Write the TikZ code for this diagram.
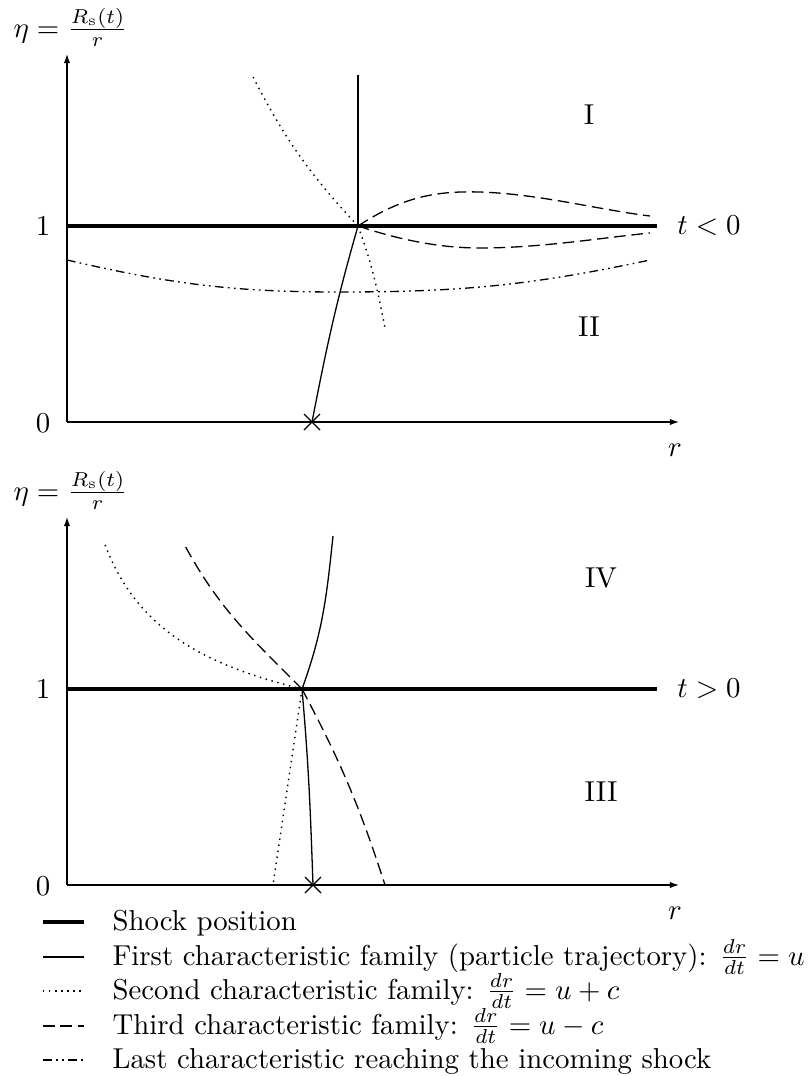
\documentclass[tikz,border=0pt]{standalone}
\usetikzlibrary{arrows.meta,calc}
\begin{document}
\begin{tikzpicture}[x=0.3472pt,y=-0.3472pt,
  axis/.style={line width=0.4pt,-{Latex[length=3.2pt,width=2.2pt]}},
  shock/.style={line width=1.6pt},
  famone/.style={line width=0.45pt},
  famtwo/.style={line width=0.5pt,dash pattern=on 0.5pt off 1.6pt},
  famthree/.style={line width=0.45pt,dash pattern=on 4pt off 2pt},
  lastc/.style={line width=0.45pt,dash pattern=on 3pt off 1.5pt on 0.6pt off 1.5pt on 0.6pt off 1.5pt},
  lbl/.style={inner sep=0pt},
  xmark/.style={line width=0.45pt}]
\useasboundingbox (0,0) rectangle (812,1076);

% ---------------- top panel (t<0) ----------------
\coordinate (O1) at (67,422);
\coordinate (Y1) at (67,54);
\coordinate (X1) at (679,422);
\draw[axis] (O1) -- (Y1);
\draw[axis] (O1) -- (X1);
\node[lbl,anchor=base west] (eta1) at (13,37) {$\eta = \frac{R_{\mathrm{s}}(t)}{r}$};
\node[lbl] (one1) at (43,226) {$1$};
\node[lbl] (zero1) at (43,423) {$0$};
\node[lbl] (r1) at (675,450) {$r$};
\node[lbl] (tneg) at (709,226) {$t<0$};
\node[lbl] (regI) at (589,115) {I};
\node[lbl] (regII) at (589,327) {II};

\coordinate (S1a) at (67,226);
\coordinate (S1b) at (657,226);
\coordinate (P1) at (358,226);
\coordinate (Q1) at (312,422);
\coordinate (V1) at (358,75);
\coordinate (D1) at (251,73);
\coordinate (D1b) at (385,328);
\coordinate (H1) at (650,216);
\coordinate (L1) at (650,233);
\coordinate (C1a) at (67,260);
\coordinate (C1m) at (340,292);
\coordinate (C1b) at (650,260);

\draw[lastc] (C1a) to[out=-13,in=180] (C1m) to[out=0,in=-168] (C1b);
\draw[shock] (S1a) -- (S1b);
\draw[famone] (V1) -- (P1);
\draw[famone] (P1) to[out=-106,in=79] (Q1);
\draw[famtwo] (P1) to[out=133,in=-63] (D1);
\draw[famtwo] (P1) to[out=-70,in=101] (D1b);
\draw[famthree] (P1) .. controls (405,195) and (440,191) .. (480,192)
   .. controls (540,194) and (600,210) .. (H1);
\draw[famthree] (P1) .. controls (400,240) and (440,248) .. (480,248)
   .. controls (540,248) and (600,238) .. (L1);
\draw[xmark] ($(Q1)+(-8,-8)$) -- ($(Q1)+(8,8)$);
\draw[xmark] ($(Q1)+(-8,8)$) -- ($(Q1)+(8,-8)$);

% ---------------- bottom panel (t>0) ----------------
\coordinate (O2) at (67,885);
\coordinate (Y2) at (67,517);
\coordinate (X2) at (679,885);
\draw[axis] (O2) -- (Y2);
\draw[axis] (O2) -- (X2);
\node[lbl,anchor=base west] (eta2) at (13,500) {$\eta = \frac{R_{\mathrm{s}}(t)}{r}$};
\node[lbl] (one2) at (43,689) {$1$};
\node[lbl] (zero2) at (43,886) {$0$};
\node[lbl] (r2) at (675,913) {$r$};
\node[lbl] (tpos) at (709,689) {$t>0$};
\node[lbl] (regIV) at (601,578) {IV};
\node[lbl] (regIII) at (601,792) {III};

\coordinate (S2a) at (67,689);
\coordinate (S2b) at (657,689);
\coordinate (P2) at (302,689);
\coordinate (Q2) at (313,885);
\coordinate (U2) at (333,536);
\coordinate (D2) at (104,542);
\coordinate (E2) at (183,542);
\coordinate (D2b) at (273,885);
\coordinate (E2b) at (385,885);

\draw[shock] (S2a) -- (S2b);
\draw[famone] (P2) to[out=70,in=-96] (U2);
\draw[famone] (P2) to[out=-85,in=92] (Q2);
\draw[famtwo] (P2) to[out=166,in=-70] (D2);
\draw[famtwo] (P2) -- (D2b);
\draw[famthree] (P2) to[out=135,in=-62] (E2);
\draw[famthree] (P2) to[bend left=5] (E2b);
\draw[xmark] ($(Q2)+(-8,-8)$) -- ($(Q2)+(8,8)$);
\draw[xmark] ($(Q2)+(-8,8)$) -- ($(Q2)+(8,-8)$);

% ---------------- legend ----------------
\coordinate (La1) at (43,922);  \coordinate (Lb1) at (84,922);
\coordinate (La2) at (43,957);  \coordinate (Lb2) at (84,957);
\coordinate (La3) at (43,991);  \coordinate (Lb3) at (84,991);
\coordinate (La4) at (43,1026); \coordinate (Lb4) at (84,1026);
\coordinate (La5) at (43,1060); \coordinate (Lb5) at (84,1060);
\draw[shock] (La1) -- (Lb1);
\draw[famone] (La2) -- (Lb2);
\draw[famtwo] (La3) -- (Lb3);
\draw[famthree] (La4) -- (Lb4);
\draw[lastc] (La5) -- (Lb5);
\node[lbl,anchor=base west] (t1) at (112,930) {Shock position};
\node[lbl,anchor=base west] (t2) at (112,965) {First characteristic family (particle trajectory): $\frac{dr}{dt}=u$};
\node[lbl,anchor=base west] (t3) at (112,999) {Second characteristic family: $\frac{dr}{dt}=u+c$};
\node[lbl,anchor=base west] (t4) at (112,1034) {Third characteristic family: $\frac{dr}{dt}=u-c$};
\node[lbl,anchor=base west] (t5) at (112,1068) {Last characteristic reaching the incoming shock};
\end{tikzpicture}
\end{document}
